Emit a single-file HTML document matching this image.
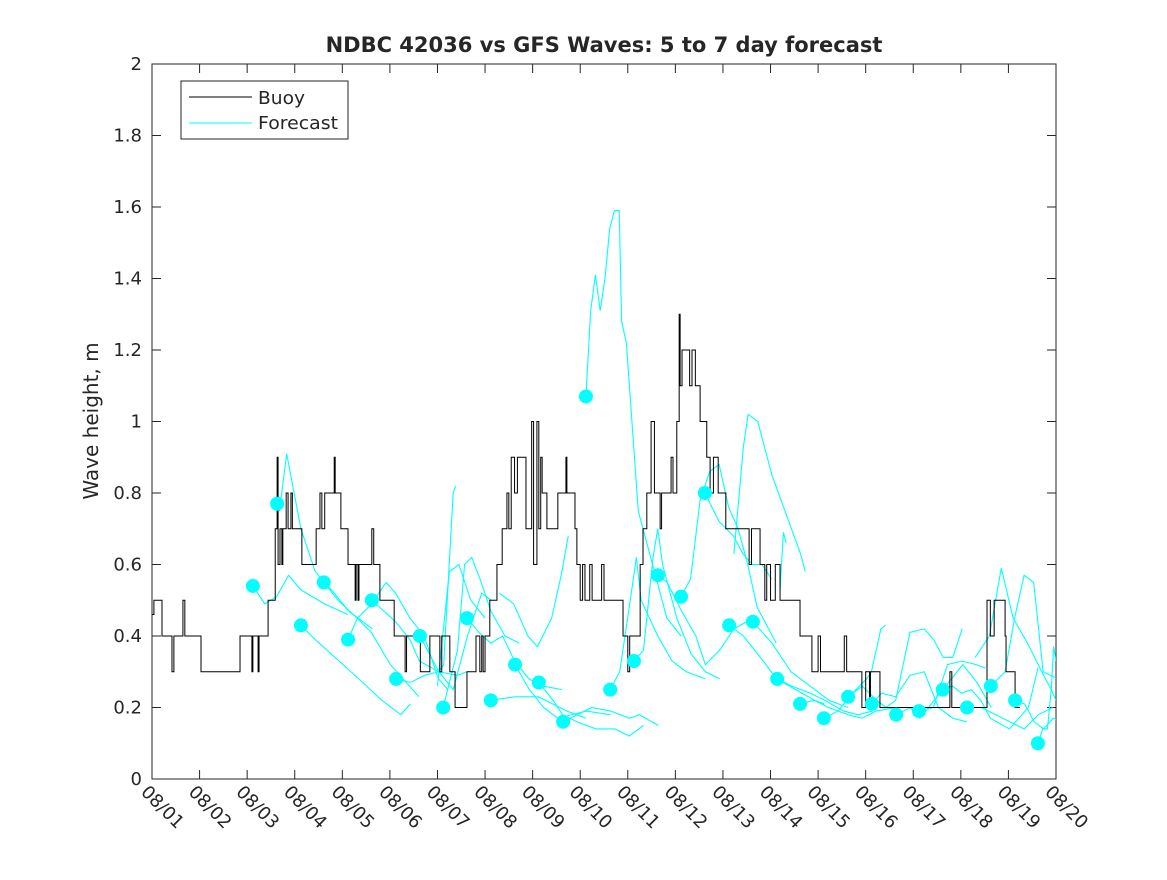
<!DOCTYPE html>
<html><head><meta charset="utf-8"><style>
body{margin:0;background:#fff;font-family:"Liberation Sans","DejaVu Sans",sans-serif}
svg text{font-family:"DejaVu Sans","Liberation Sans",sans-serif;fill:#262626}
</style></head><body>
<svg id="chart" width="1167" height="875">
<defs><clipPath id="pc"><rect x="152" y="64" width="904" height="715"/></clipPath></defs>
<rect width="1167" height="875" fill="#fff"/>
</svg>
<script>
const dateLabels=["08/01","08/02","08/03","08/04","08/05","08/06","08/07","08/08","08/09","08/10","08/11","08/12","08/13","08/14","08/15","08/16","08/17","08/18","08/19","08/20"];
const yTicks=[0,0.2,0.4,0.6,0.8,1,1.2,1.4,1.6,1.8,2];
const yTickLabels=["0","0.2","0.4","0.6","0.8","1","1.2","1.4","1.6","1.8","2"];
// buoy step series: [day, value]
const buoy=[[0,.46],[.04,.5],[.21,.4],[.42,.3],[.46,.4],[.65,.5],[.69,.4],[1.03,.3],[1.85,.4],[2.10,.3],[2.12,.4],[2.23,.3],[2.25,.4],[2.44,.5],[2.59,.7],[2.63,.9],[2.65,.6],[2.69,.7],[2.73,.6],[2.75,.7],[2.82,.8],[2.86,.7],[2.92,.8],[2.95,.7],[3.15,.6],[3.45,.7],[3.53,.8],[3.57,.7],[3.63,.8],[3.83,.9],[3.85,.8],[3.97,.7],[4.12,.6],[4.27,.5],[4.29,.6],[4.33,.5],[4.35,.6],[4.41,.6],[4.62,.7],[4.66,.6],[4.79,.5],[5.09,.4],[5.32,.3],[5.35,.4],[5.64,.3],[5.84,.4],[6.05,.3],[6.09,.4],[6.26,.3],[6.37,.2],[6.62,.3],[6.81,.4],[6.89,.3],[6.93,.4],[6.96,.3],[7.0,.4],[7.10,.5],[7.25,.6],[7.36,.7],[7.46,.8],[7.50,.7],[7.55,.9],[7.62,.8],[7.68,.9],[7.86,.7],[7.98,1.0],[8.02,.6],[8.09,1.0],[8.13,.7],[8.17,.9],[8.20,.8],[8.30,.7],[8.53,.8],[8.70,.9],[8.72,.8],[8.89,.7],[8.93,.6],[9.00,.5],[9.05,.6],[9.10,.5],[9.2,.6],[9.25,.5],[9.45,.6],[9.50,.5],[9.90,.4],[10.00,.3],[10.04,.4],[10.26,.6],[10.32,.7],[10.40,.8],[10.49,1.0],[10.56,.8],[10.68,.7],[10.71,.8],[10.91,.9],[10.95,.8],[11.03,1.0],[11.08,1.3],[11.10,1.1],[11.14,1.2],[11.30,1.1],[11.35,1.2],[11.42,1.1],[11.52,1.0],[11.66,.9],[11.73,.8],[11.80,.9],[11.90,.8],[12.06,.7],[12.21,.7],[12.55,.6],[12.60,.7],[12.78,.6],[12.88,.5],[12.92,.6],[13.0,.5],[13.1,.6],[13.2,.5],[13.62,.4],[13.87,.3],[14.0,.4],[14.05,.3],[14.55,.4],[14.6,.3],[14.92,.2],[15.0,.3],[15.08,.2],[15.1,.3],[15.3,.2],[15.62,.2],[16.77,.3],[16.81,.2],[17.55,.5],[17.62,.4],[17.70,.5],[17.93,.4],[17.95,.3],[18.14,.2],[18.24,.2]];
// forecast start days (dots)
const fcStart=[2.12,2.63,3.13,3.61,4.12,4.62,5.13,5.63,6.12,6.62,7.12,7.63,8.13,8.64,9.12,9.63,10.13,10.63,11.12,11.62,12.13,12.63,13.14,13.62,14.12,14.63,15.13,15.64,16.12,16.62,17.13,17.63,18.14,18.62];
// forecast tracks: [lead day, value]
const fcTracks=[
[[0,.54],[.25,.49],[.5,.51],[.75,.57],[1,.53],[1.5,.49],[2,.46]],
[[0,.77],[.05,.75],[.2,.91],[.5,.7],[.8,.58],[1.2,.52],[1.5,.47],[2,.42]],
[[0,.43],[.3,.39],[.8,.33],[1.3,.27],[1.7,.22],[2.1,.18],[2.3,.21]],
[[0,.55],[.3,.5],[.7,.45],[1,.41],[1.4,.32],[1.8,.26],[2,.23]],
[[0,.39],[.2,.45],[.5,.49],[.8,.55],[1,.52],[1.3,.45],[1.6,.4],[1.9,.28],[2.1,.25]],
[[0,.5],[.5,.44],[.8,.39],[1,.33],[1.4,.3],[1.8,.29],[2,.3]],
[[0,.28],[.3,.27],[.6,.29],[.9,.3],[1.2,.25],[1.5,.4],[1.8,.52],[2,.5]],
[[0,.4],[.2,.35],[.4,.3],[.5,.32],[.7,.8],[.75,.82]],
[[0,.2],[.3,.36],[.45,.6],[.6,.62],[.8,.55],[1,.47],[1.3,.4],[1.6,.38]],
[[0,.45],[.25,.41],[.5,.38],[.75,.4],[1,.33],[1.3,.28],[1.6,.26],[2,.25]],
[[0,.22],[.5,.23],[1,.23],[1.3,.21],[1.6,.19],[2,.17]],
[[0,.32],[.3,.25],[.6,.2],[.9,.17],[1.2,.18],[1.5,.19],[2,.18]],
[[0,.27],[.3,.22],[.5,.18],[.8,.16],[1.2,.14],[1.6,.14],[1.9,.12],[2.2,.15]],
[[0,.16],[.3,.18],[.6,.2],[1,.19],[1.4,.17],[1.6,.18],[2,.15]],
[[0,1.07],[.1,1.31],[.2,1.41],[.3,1.31],[.4,1.4],[.5,1.54],[.6,1.59],[.7,1.59],[.75,1.28],[.85,1.22],[1.1,.75],[1.4,.6],[1.7,.45],[2,.4]],
[[0,.25],[.2,.3],[.4,.48],[.55,.62],[.65,.5],[1,.4],[1.3,.33],[1.6,.3],[2,.28]],
[[0,.33],[.2,.36],[.4,.62],[.5,.7],[.6,.6],[.9,.45],[1.2,.35],[1.5,.3],[1.8,.28]],
[[0,.57],[.2,.55],[.5,.47],[.8,.4],[1,.32],[1.3,.36],[1.6,.42],[2,.45]],
[[0,.51],[.2,.56],[.4,.78],[.6,.86],[.8,.88],[1,.76],[1.2,.7],[1.4,.6],[1.6,.48],[2,.38]],
[[0,.8],[.3,.72],[.6,.68],[.8,.63],[1,.6],[1.2,.6],[1.4,.56]],
[[0,.43],[.3,.4],[.6,.35],[1,.28],[1.4,.25],[1.8,.22],[2,.21]],
[[0,.44],[.4,.38],[.8,.3],[1.2,.26],[1.6,.22],[2,.2]],
[[0,.28],[.3,.26],[.7,.24],[1,.22],[1.4,.19],[1.7,.18],[2,.19]],
[[0,.21],[.3,.22],[.6,.2],[1,.18],[1.3,.17],[1.6,.19],[2,.2]],
[[0,.17],[.3,.19],[.6,.24],[.9,.28],[1,.3],[1.2,.42],[1.3,.43]],
[[0,.23],[.3,.26],[.6,.22],[.8,.2],[1,.22],[1.3,.41],[1.6,.42],[1.8,.39],[2,.34],[2.2,.34],[2.4,.42]],
[[0,.21],[.2,.24],[.5,.23],[.8,.29],[1.1,.3],[1.4,.2],[1.7,.17],[2,.16]],
[[0,.18],[.3,.2],[.5,.17],[.8,.22],[1.1,.27],[1.4,.32],[1.7,.27],[2,.2]],
[[0,.19],[.3,.2],[.6,.32],[.9,.33],[1.2,.32],[1.4,.31]],
[[0,.25],[.2,.26],[.4,.24],[.6,.25],[.8,.22],[1,.17],[1.4,.14],[1.8,.2],[2,.31]],
[[0,.2],[.3,.2],[.6,.18],[.9,.16],[1.2,.14],[1.5,.18],[1.8,.2]],
[[0,.26],[.3,.3],[.5,.45],[.7,.57],[.9,.55],[1.1,.3],[1.4,.28]],
[[0,.22],[.2,.21],[.4,.16],[.6,.14],[.8,.17],[.95,.16]],
[[0,.10],[.1,.14],[.2,.14],[.28,.25],[.33,.37],[.38,.33]]
];
// extra forecast tracks without start dots: [day, value]
const fcExtra=[
[[12.23,.63],[12.43,.93],[12.53,1.02],[12.73,1.0],[13.03,.85],[13.33,.74],[13.63,.63],[13.73,.58]],
[[13.2,.53],[13.27,.69],[13.33,.66]],
[[7.3,.52],[7.6,.49],[7.9,.4],[8.1,.37],[8.4,.45],[8.6,.57],[8.75,.68]],
[[17.3,.34],[17.6,.4],[17.85,.59],[18.1,.45],[18.4,.38],[18.7,.3],[18.9,.25],[19,.22]],
[[6.0,.26],[6.25,.58],[6.45,.6],[6.7,.5],[7.0,.45]]
];
const L=152,R=1056,T=64,B=779;
const xs=d=>L+d*(R-L)/19;
const ys=v=>B-v*(B-T)/2;
const svg=document.getElementById('chart');
const NS='http://www.w3.org/2000/svg';
function mk(tag,attrs,parent){const e=document.createElementNS(NS,tag);for(const k in attrs)e.setAttribute(k,attrs[k]);(parent||svg).appendChild(e);return e;}
const box=mk('rect',{x:L,y:T,width:R-L,height:B-T,fill:'#fff',stroke:'#262626','stroke-width':1});


const gy=mk('g',{});


yTicks.forEach((v,i)=>{
 const y=ys(v);
 mk('line',{x1:L,x2:L+9,y1:y,y2:y,stroke:'#262626'},gy);
 mk('line',{x1:R,x2:R-9,y1:y,y2:y,stroke:'#262626'},gy);
 const t=mk('text',{x:L-10,y:y+6,'text-anchor':'end','font-size':18},gy);
 t.textContent=yTickLabels[i];
 
 
});
const gx=mk('g',{});


dateLabels.forEach((s,i)=>{
 const x=xs(i);
 mk('line',{x1:x,x2:x,y1:B,y2:B-9,stroke:'#262626'},gx);
 mk('line',{x1:x,x2:x,y1:T,y2:T+9,stroke:'#262626'},gx);
 const t=mk('text',{x:0,y:0,'font-size':18,transform:`translate(${x-12},${B+14}) rotate(45)`},gx);
 t.textContent=s;
 
 
});
const gf=mk('g',{'clip-path':'url(#pc)'});


fcTracks.forEach((tr,i)=>{
 const p=mk('polyline',{points:tr.map(q=>xs(fcStart[i]+q[0])+','+ys(q[1])).join(' '),fill:'none',stroke:'#00ffff','stroke-width':1.1},gf);
 
 
});
fcExtra.forEach(tr=>{
 const p=mk('polyline',{points:tr.map(q=>xs(q[0])+','+ys(q[1])).join(' '),fill:'none',stroke:'#00ffff','stroke-width':1.1},gf);
 
 
});
let pts=[];
buoy.forEach((q,i)=>{
 const x=xs(q[0]);
 if(i>0)pts.push(x+','+ys(buoy[i-1][1]));
 pts.push(x+','+ys(q[1]));
});
const bl=mk('polyline',{points:pts.join(' '),fill:'none',stroke:'#000','stroke-width':1});


const gd=mk('g',{});


fcTracks.forEach((tr,i)=>{
 const c=mk('circle',{cx:xs(fcStart[i]),cy:ys(tr[0][1]),r:7,fill:'#00ffff'},gd);
 
 
});
const ti=mk('text',{x:604,y:52,'text-anchor':'middle','font-size':21,'font-weight':'bold'});
ti.textContent='NDBC 42036 vs GFS Waves: 5 to 7 day forecast';


const yl=mk('text',{x:0,y:0,'text-anchor':'middle','font-size':20,transform:'translate(98,421) rotate(-90)'});
yl.textContent='Wave height, m';


const lg=mk('g',{});


mk('rect',{x:181,y:81,width:167,height:58,fill:'#fff',stroke:'#262626'},lg);
mk('line',{x1:189,x2:252,y1:97,y2:97,stroke:'#000'},lg);
mk('line',{x1:189,x2:252,y1:123,y2:123,stroke:'#00ffff'},lg);
const l1=mk('text',{x:258,y:104,'font-size':18,textLength:47,lengthAdjust:'spacingAndGlyphs'},lg);l1.textContent='Buoy';


const l2=mk('text',{x:258,y:129,'font-size':18,textLength:80,lengthAdjust:'spacingAndGlyphs'},lg);l2.textContent='Forecast';


</script>
</body></html>
